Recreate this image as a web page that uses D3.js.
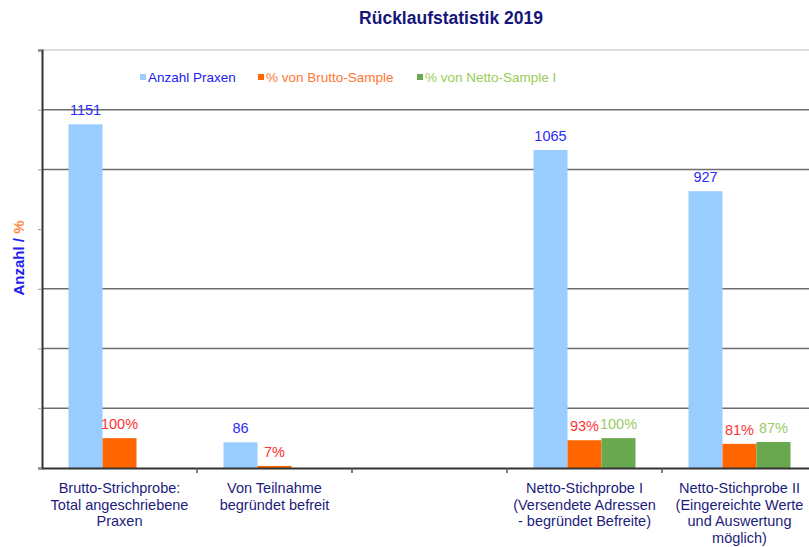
<!DOCTYPE html>
<html>
<head>
<meta charset="utf-8">
<script src="https://cdn.jsdelivr.net/npm/d3@7"></script>
<style>
  html, body { margin: 0; padding: 0; background: #ffffff; }
  svg { display: block; font-family: "Liberation Sans", Arial, sans-serif; }
</style>
</head>
<body>
<svg id="chart" width="809" height="547"></svg>
<script>
// ---- data ----
const categories = [
  ["Brutto-Strichprobe:", "Total angeschriebene", "Praxen"],
  ["Von Teilnahme", "begründet befreit"],
  [],
  ["Netto-Stichprobe I", "(Versendete Adressen", "- begründet Befreite)"],
  ["Netto-Stichprobe II", "(Eingereichte Werte", "und Auswertung", "möglich)"]
];
const seriesNames = ["Anzahl Praxen", "% von Brutto-Sample", "% von Netto-Sample I"];
const anzahlPraxen = [1151, 86, null, 1065, 927];
const pctBrutto    = [100, 7, null, 93, 81];
const pctNetto     = [null, null, null, 100, 87];
const yTicks = [0, 200, 400, 600, 800, 1000, 1200, 1400];
const gridValues = [200, 400, 600, 1000, 1200];
const chartTitle = "Rücklaufstatistik 2019";

// ---- styles ----
const barColors = ["#99ccff", "#ff6600", "#6aa84f"];
const labelColors = ["#2b2bf5", "#ff3333", "#99cc66"];
const legendText = ["#2222ee", "#ff7733", "#99cc55"];
const navy = "#1c1c7c";

const svg = d3.select("#chart");
const pLeft = 42, pRight = 817, pTop = 50, pBottom = 468;

const x = d3.scaleBand().domain(d3.range(categories.length)).range([pLeft, pRight]).padding(0);
const xs = d3.scaleBand().domain(d3.range(3)).range([26.5, 128.5]).padding(0);
const y = d3.scaleLinear().domain([0, 1400]).range([pBottom, pTop]);

// title
svg.append("text").attr("x", 451).attr("y", 24).attr("text-anchor", "middle")
  .attr("font-size", 17.5).attr("font-weight", "bold").attr("fill", "#15157a").text(chartTitle);

// top border
svg.append("line").attr("x1", pLeft).attr("x2", 809).attr("y1", pTop).attr("y2", pTop)
  .attr("stroke", "#d4d4d4").attr("stroke-width", 1.5);

// gridlines
svg.append("g").selectAll("line").data(gridValues).join("line")
  .attr("x1", pLeft).attr("x2", 809)
  .attr("y1", d => y(d)).attr("y2", d => y(d))
  .attr("stroke", "#6e6e6e").attr("stroke-width", 1.5);

// y axis (ticks only, no labels)
const yAxis = svg.append("g").attr("transform", `translate(${pLeft},0)`)
  .call(d3.axisLeft(y).tickValues(yTicks).tickSize(4).tickFormat(""));
yAxis.select(".domain").attr("stroke", "#333").attr("stroke-width", 2);
yAxis.selectAll(".tick line").attr("stroke", "#999");

// bars
const series = [anzahlPraxen, pctBrutto, pctNetto];
series.forEach((vals, si) => {
  const g = svg.append("g");
  vals.forEach((v, ci) => {
    if (v == null) return;
    const bx = x(ci) + xs(si);
    g.append("rect").attr("x", bx).attr("y", y(v))
      .attr("width", xs.bandwidth()).attr("height", y(0) - y(v))
      .attr("fill", barColors[si]);
    g.append("text").attr("x", bx + xs.bandwidth() / 2).attr("y", y(v) - 9)
      .attr("text-anchor", "middle").attr("font-size", 14.5)
      .attr("fill", labelColors[si])
      .text(si === 0 ? v : v + "%");
  });
});

// x axis
const xAxis = svg.append("g").attr("transform", `translate(0,${pBottom})`)
  .call(d3.axisBottom(x).tickSize(0).tickFormat(""));
xAxis.select(".domain").attr("stroke", "#333").attr("stroke-width", 2);
svg.append("g").selectAll("line").data(d3.range(1, categories.length)).join("line")
  .attr("x1", d => x(d)).attr("x2", d => x(d))
  .attr("y1", pBottom).attr("y2", pBottom + 5)
  .attr("stroke", "#555").attr("stroke-width", 1.5);

// category labels
categories.forEach((lines, ci) => {
  const t = svg.append("text").attr("text-anchor", "middle")
    .attr("font-size", 14.5).attr("fill", navy);
  lines.forEach((ln, li) => {
    t.append("tspan").attr("x", x(ci) + x.bandwidth() / 2)
      .attr("y", 493 + li * 16.6).text(ln);
  });
});

// legend
const legendX = [140, 258, 417];
seriesNames.forEach((n, i) => {
  svg.append("rect").attr("x", legendX[i]).attr("y", 74).attr("width", 6).attr("height", 6)
    .attr("fill", barColors[i]);
  svg.append("text").attr("x", legendX[i] + 8).attr("y", 82)
    .attr("font-size", 13.5).attr("fill", legendText[i]).text(n);
});

// y-axis title
const yt = svg.append("text").attr("transform", "translate(24,258) rotate(-90)")
  .attr("text-anchor", "middle").attr("font-size", 15).attr("font-weight", "bold");
yt.append("tspan").attr("fill", "#2222ee").text("Anzahl / ");
yt.append("tspan").attr("fill", "#ff8844").text("%");
</script>
</body>
</html>
